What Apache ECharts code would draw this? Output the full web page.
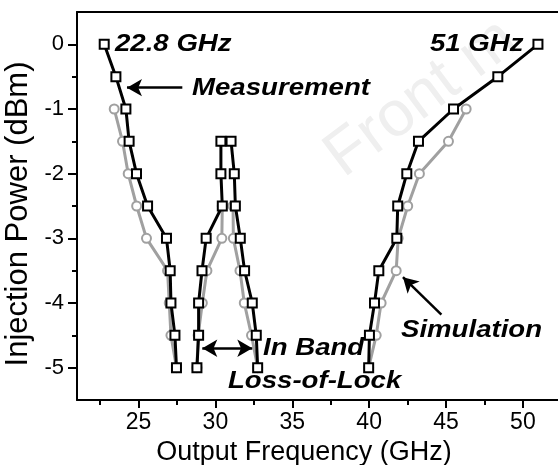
<!DOCTYPE html>
<html>
<head>
<meta charset="utf-8">
<script src="https://cdn.jsdelivr.net/npm/echarts@6/dist/echarts.min.js"></script>
<style>
html,body{margin:0;padding:0;background:#fff;}
#chart{width:558px;height:465px;}
</style>
</head>
<body>
<div id="chart"></div>
<script>
// Injection power levels (dBm)
const powerLevels = [0, -0.5, -1, -1.5, -2, -2.5, -3, -3.5, -4, -4.5, -5];
// Measurement (black squares), frequencies in GHz
const measLeftX  = [22.77, 23.53, 24.18, 24.39, 24.87, 25.59, 26.82, 27.06, 27.11, 27.37, 27.47]; // 0 .. -5
const measInnerLeftX  = [30.36, 30.36, 30.45, 29.40, 29.13, 28.91, 28.91, 28.80];               // -1.5 .. -5
const measInnerRightX = [31.02, 31.23, 31.30, 31.62, 31.90, 32.40, 32.66, 32.75];               // -1.5 .. -5
const measRightX = [50.98, 48.37, 45.49, 43.21, 42.45, 41.86, 41.80, 40.63, 40.35, 40.02, 39.97]; // 0 .. -5
// Simulation (gray circles)
const simLeftX  = [23.42, 23.96, 24.33, 24.88, 25.52, 26.89, 27.00, 27.11, 27.47];  // -1 .. -5
const simInnerLeftX  = [30.45, 30.42, 29.45, 29.15, 28.88, 28.80];                 // -2.5 .. -5
const simInnerRightX = [31.15, 31.17, 31.60, 31.88, 32.35, 32.75];                 // -2.5 .. -5
const simRightX = [46.31, 45.16, 43.27, 42.51, 41.89, 41.76, 40.78, 40.46, 39.97]; // -1 .. -5
// Axis ticks
const xMajorTicks = [25, 30, 35, 40, 45, 50];
const xMinorTicks = [22.5, 27.5, 32.5, 37.5, 42.5, 47.5, 52.5];
const yMajorTicks = [-5, -4, -3, -2, -1, 0];
const yMinorTicks = [-4.5, -3.5, -2.5, -1.5, -0.5];

function pairs(xs, ys) { return xs.map((x, i) => [x, ys[i]]); }
const ysFrom = (start) => powerLevels.slice(start);

const BLACK = '#000000';
const GRAY = '#a0a0a0';
const FONT = '"Liberation Sans", Arial, sans-serif';

function measSeries(name, data, extra) {
  return Object.assign({
    name: name, type: 'line', data: data, symbol: 'rect', symbolSize: 9,
    itemStyle: { color: '#fff', borderColor: BLACK, borderWidth: 2 },
    lineStyle: { color: BLACK, width: 3 }, z: 5, silent: true
  }, extra || {});
}
function simSeries(name, data) {
  return {
    name: name, type: 'line', data: data, symbol: 'circle', symbolSize: 9,
    itemStyle: { color: '#fff', borderColor: GRAY, borderWidth: 2 },
    lineStyle: { color: GRAY, width: 3 }, z: 3, silent: true
  };
}
function arrowLine(from, to, symbols) {
  return {
    silent: true, animation: false,
    symbol: symbols, symbolSize: [13, 15],
    lineStyle: { color: BLACK, width: 2.5, type: 'solid' },
    itemStyle: { color: BLACK },
    label: { show: false },
    emphasis: { disabled: true },
    data: [[{ coord: from }, { coord: to }]]
  };
}

const chart = echarts.init(document.getElementById('chart'), null, { renderer: 'canvas' });
const xRange = { min: 21, max: 53 };
const yRange = { min: -5.5, max: 0.5 };

const option = {
  animation: false,
  backgroundColor: '#fff',
  grid: { left: 77, top: 12, bottom: 65, right: -11, containLabel: false, outerBoundsMode: 'none' },
  xAxis: [
    {
      type: 'value', position: 'bottom', min: xRange.min, max: xRange.max,
      name: 'Output Frequency (GHz)', nameLocation: 'middle', nameGap: 29,
      nameTextStyle: { fontFamily: FONT, fontSize: 27, color: BLACK, padding: [0, 38, 0, 0] },
      axisLine: { show: true, onZero: false, lineStyle: { color: BLACK, width: 2 } },
      axisTick: { show: true, inside: false, length: 8, lineStyle: { color: BLACK, width: 2 }, customValues: xMajorTicks },
      axisLabel: { fontFamily: FONT, fontSize: 23, color: BLACK, margin: 11, customValues: xMajorTicks },
      splitLine: { show: false }
    },
    {
      type: 'value', position: 'top', min: xRange.min, max: xRange.max,
      axisLine: { show: true, onZero: false, lineStyle: { color: BLACK, width: 2 } },
      axisTick: { show: false }, axisLabel: { show: false }, splitLine: { show: false }
    },
    {
      type: 'value', position: 'bottom', min: xRange.min, max: xRange.max,
      axisLine: { show: false, onZero: false },
      axisTick: { show: true, length: 5, lineStyle: { color: BLACK, width: 2 }, customValues: xMinorTicks },
      axisLabel: { show: false }, splitLine: { show: false }
    }
  ],
  yAxis: [
    {
      type: 'value', position: 'left', min: yRange.min, max: yRange.max,
      name: 'Injection Power (dBm)', nameLocation: 'middle', nameGap: 34,
      nameTextStyle: { fontFamily: FONT, fontSize: 31, color: BLACK, padding: [0, 16, 0, 0] },
      axisLine: { show: true, onZero: false, lineStyle: { color: BLACK, width: 2 } },
      axisTick: { show: true, length: 9, lineStyle: { color: BLACK, width: 2 }, customValues: yMajorTicks },
      axisLabel: { fontFamily: FONT, fontSize: 22, color: BLACK, margin: 13, customValues: yMajorTicks },
      splitLine: { show: false }
    },
    {
      type: 'value', position: 'left', min: yRange.min, max: yRange.max,
      axisLine: { show: false, onZero: false },
      axisTick: { show: true, length: 5, lineStyle: { color: BLACK, width: 2 }, customValues: yMinorTicks },
      axisLabel: { show: false }, splitLine: { show: false }
    }
  ],
  series: [
    simSeries('Simulation', pairs(simLeftX, ysFrom(2))),
    simSeries('Simulation inner L', pairs(simInnerLeftX, ysFrom(5))),
    simSeries('Simulation inner R', pairs(simInnerRightX, ysFrom(5))),
    simSeries('Simulation right', pairs(simRightX, ysFrom(2))),
    measSeries('Measurement', pairs(measLeftX, ysFrom(0)), {
      markLine: arrowLine([27.85, -0.67], [24.25, -0.67], ['none', 'arrow'])
    }),
    measSeries('Measurement inner L', pairs(measInnerLeftX, ysFrom(3)), {
      markLine: arrowLine([29.15, -4.7], [32.4, -4.7], ['arrow', 'arrow'])
    }),
    measSeries('Measurement inner R', pairs(measInnerRightX, ysFrom(3))),
    measSeries('Measurement right', pairs(measRightX, ysFrom(0)), {
      markLine: arrowLine([44.7, -4.18], [42.2, -3.6], ['none', 'arrow'])
    })
  ],
  graphic: [
    { type: 'text', x: 352, y: 190, rotation: 0.64, z: 0, silent: true,
      style: { text: 'Front m', font: '64px ' + FONT, fill: '#efefef', verticalAlign: 'bottom' } },
    { type: 'text', x: 115, y: 45, scaleX: 1.2, z: 10,
      style: { text: '22.8 GHz', font: 'italic bold 23px ' + FONT, fill: BLACK, verticalAlign: 'middle' } },
    { type: 'text', x: 192, y: 89, scaleX: 1.2, z: 10,
      style: { text: 'Measurement', font: 'italic bold 23px ' + FONT, fill: BLACK, verticalAlign: 'middle' } },
    { type: 'text', x: 430, y: 45, scaleX: 1.2, z: 10,
      style: { text: '51 GHz', font: 'italic bold 23px ' + FONT, fill: BLACK, verticalAlign: 'middle' } },
    { type: 'text', x: 401, y: 331, scaleX: 1.2, z: 10,
      style: { text: 'Simulation', font: 'italic bold 23px ' + FONT, fill: BLACK, verticalAlign: 'middle' } },
    { type: 'text', x: 263, y: 349, scaleX: 1.2, z: 10,
      style: { text: 'In Band', font: 'italic bold 23px ' + FONT, fill: BLACK, verticalAlign: 'middle' } },
    { type: 'text', x: 228, y: 382, scaleX: 1.2, z: 10,
      style: { text: 'Loss-of-Lock', font: 'italic bold 23px ' + FONT, fill: BLACK, verticalAlign: 'middle' } }
  ]
};
chart.setOption(option);
</script>
</body>
</html>
